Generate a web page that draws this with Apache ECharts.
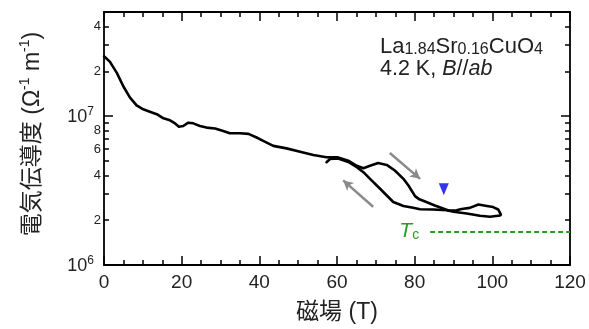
<!DOCTYPE html>
<html><head><meta charset="utf-8">
<script src="https://cdn.jsdelivr.net/npm/echarts@6/dist/echarts.min.js"></script>
<style>html,body{margin:0;padding:0;background:#fff}#c{width:589px;height:329px}</style>
</head><body><div id="c"></div>
<script>
// ---- data (field in T, conductivity in S/m) ----
const upField = [0, 1.5, 3.3, 5, 6.7, 8.4, 10.1, 11.8, 13.6, 15.3, 17, 18.3, 19.3, 20.4, 21.7, 23, 24.7, 26.4, 28.6, 30.7, 32.4, 35, 37.2, 39.3, 41, 43.6, 47, 50.5, 53.9, 57.3, 60.3, 62.9, 65.1, 66.8, 68.5, 70.6, 72.8, 74.9, 77.1, 78.4, 80.1, 81.2, 82.2, 85.2, 88.7, 90.8, 92.1, 94.2, 96.4, 98.6, 100.2, 101.5, 102.2];
const upCond = [25.2e6, 23.2e6, 19.5e6, 15.8e6, 13.3e6, 11.8e6, 11.1e6, 10.7e6, 10.3e6, 9.66e6, 9.36e6, 8.93e6, 8.49e6, 8.58e6, 9.03e6, 8.94e6, 8.58e6, 8.37e6, 8.25e6, 7.95e6, 7.67e6, 7.67e6, 7.59e6, 7.18e6, 6.82e6, 6.31e6, 6.07e6, 5.76e6, 5.48e6, 5.29e6, 5.28e6, 5.02e6, 4.64e6, 4.47e6, 4.64e6, 4.84e6, 4.70e6, 4.31e6, 3.79e6, 3.42e6, 2.90e6, 2.76e6, 2.70e6, 2.51e6, 2.32e6, 2.33e6, 2.38e6, 2.42e6, 2.55e6, 2.49e6, 2.45e6, 2.36e6, 2.18e6];
const downField = [102, 99.4, 96.8, 93.4, 90, 88.3, 84.8, 81.4, 79.6, 77.1, 74.5, 73.2, 71.1, 68.9, 66.8, 65.1, 62.9, 60.3, 58.2, 57.3];
const downCond = [2.15e6, 2.11e6, 2.14e6, 2.22e6, 2.28e6, 2.33e6, 2.36e6, 2.37e6, 2.42e6, 2.49e6, 2.65e6, 2.86e6, 3.25e6, 3.70e6, 4.20e6, 4.54e6, 4.92e6, 5.19e6, 5.15e6, 4.90e6];

const xTickStep = 20;
const yMajorTicks = [1e6, 1e7];
const yMinorTicks = [2e6, 3e6, 4e6, 5e6, 6e6, 7e6, 8e6, 9e6, 2e7, 3e7, 4e7, 5e7];
const yMinorLabels = [2e6, 4e6, 6e6, 8e6, 2e7, 4e7];

const arrowUpSweep = [[73.6, 5.65e6], [81.4, 3.79e6]];
const arrowDownSweep = [[69.3, 2.46e6], [61.6, 3.70e6]];
const markerPoint = [87.5, 3.22e6];
const tcLevel = 1.68e6;
const tcFieldRange = [84, 120];

const FONT = "'Liberation Sans', Arial, 'Noto Sans CJK JP', sans-serif";
const GREEN = '#22a022';
const zip = (a, b) => a.map((v, i) => [v, b[i]]);

const chart = echarts.init(document.getElementById('c'), null, {renderer: 'canvas'});

const baseY = {
  type: 'log', logBase: 10, min: 1e6, max: 5e7,
  splitLine: {show: false}, minorSplitLine: {show: false}
};
const tickStyle = {color: '#000', width: 1.5};

chart.setOption({
  animation: false,
  textStyle: {fontFamily: FONT},
  grid: {left: 104, right: 19, top: 12, bottom: 62},
  xAxis: [{
    type: 'value', min: 0, max: 120, interval: xTickStep, position: 'bottom',
    axisLine: {lineStyle: {color: '#000', width: 1.8}},
    axisTick: {inside: true, length: 9, lineStyle: tickStyle},
    minorTick: {show: true, splitNumber: 4, length: 5, lineStyle: tickStyle},
    axisLabel: {margin: 8, fontSize: 19, color: '#222', fontFamily: FONT},
    splitLine: {show: false},
    name: '磁場 (T)', nameLocation: 'middle', nameGap: 36,
    nameTextStyle: {fontSize: 23, color: '#222', fontFamily: FONT}
  }, {
    type: 'value', min: 0, max: 120, interval: xTickStep, position: 'top',
    axisLine: {lineStyle: {color: '#000', width: 1.8}},
    axisTick: {inside: true, length: 9, lineStyle: tickStyle},
    minorTick: {show: true, splitNumber: 4, length: 5, lineStyle: tickStyle},
    axisLabel: {show: false}, splitLine: {show: false}
  }],
  yAxis: [
    Object.assign({}, baseY, {
      position: 'left',
      axisLine: {show: true, lineStyle: {color: '#000', width: 1.8}},
      axisTick: {show: true, inside: true, length: 9, lineStyle: tickStyle, customValues: yMajorTicks},
      axisLabel: {
        customValues: yMajorTicks, margin: 10, color: '#222',
        formatter: v => '{b|10}{s|' + Math.round(Math.log10(v)) + '}',
        rich: {
          b: {fontSize: 18, fontFamily: FONT, color: '#222', lineHeight: 20, verticalAlign: 'bottom'},
          s: {fontSize: 12, fontFamily: FONT, color: '#222', lineHeight: 2, verticalAlign: 'top'}
        }
      }
    }),
    Object.assign({}, baseY, {
      position: 'left',
      axisLine: {show: false},
      axisTick: {show: true, inside: true, length: 5, lineStyle: tickStyle, customValues: yMinorTicks},
      axisLabel: {
        customValues: yMinorLabels, margin: 3, fontSize: 13, color: '#222', fontFamily: FONT,
        formatter: v => String(Math.round(v / Math.pow(10, Math.floor(Math.log10(v) + 1e-9))))
      }
    }),
    Object.assign({}, baseY, {
      position: 'right',
      axisLine: {show: true, lineStyle: {color: '#000', width: 1.8}},
      axisTick: {show: true, inside: true, length: 9, lineStyle: tickStyle, customValues: yMajorTicks},
      axisLabel: {show: false}
    }),
    Object.assign({}, baseY, {
      position: 'right',
      axisLine: {show: false},
      axisTick: {show: true, inside: true, length: 5, lineStyle: tickStyle, customValues: yMinorTicks},
      axisLabel: {show: false}
    })
  ],
  series: [{
    type: 'line', name: 'up', data: zip(upField, upCond), showSymbol: false, smooth: false,
    lineStyle: {color: '#000', width: 2.6, join: 'round', cap: 'round'}, silent: true
  }, {
    type: 'line', name: 'down', data: zip(downField, downCond), showSymbol: false, smooth: false,
    lineStyle: {color: '#000', width: 2.6, join: 'round', cap: 'round'}, silent: true
  }, {
    type: 'scatter', data: [markerPoint], symbol: 'triangle', symbolRotate: 180, symbolSize: [10, 12],
    itemStyle: {color: '#0000ee'}, silent: true
  }, {
    type: 'line', data: [], silent: true,
    markLine: {
      silent: true, animation: false,
      symbol: ['none', 'arrow'], symbolSize: [8, 10],
      lineStyle: {color: '#8a8a8a', width: 2.5, type: 'solid'},
      label: {show: false},
      data: [
        [{coord: arrowUpSweep[0]}, {coord: arrowUpSweep[1]}],
        [{coord: arrowDownSweep[0]}, {coord: arrowDownSweep[1]}]
      ]
    }
  }, {
    type: 'line', data: [], silent: true,
    markLine: {
      silent: true, animation: false, symbol: ['none', 'none'],
      lineStyle: {color: GREEN, width: 2, type: [5, 3]},
      label: {
        show: true, position: 'start', distance: 11,
        formatter: '{t|T}{c|c}',
        rich: {
          t: {fontSize: 21, fontStyle: 'italic', color: GREEN, fontFamily: FONT, lineHeight: 22, verticalAlign: 'top'},
          c: {fontSize: 14, color: GREEN, fontFamily: FONT, lineHeight: 8, verticalAlign: 'bottom'}
        }
      },
      data: [[{coord: [tcFieldRange[0], tcLevel]}, {coord: [tcFieldRange[1], tcLevel]}]]
    }
  }],
  graphic: [{
    type: 'text', left: 380, top: 36, silent: true,
    style: {
      text: '{m|La}{s|1.84}{m|Sr}{s|0.16}{m|CuO}{s|4}',
      rich: {
        m: {fontSize: 22, fontFamily: FONT, fill: '#222', lineHeight: 22, verticalAlign: 'top'},
        s: {fontSize: 16, fontFamily: FONT, fill: '#222', lineHeight: 8, verticalAlign: 'bottom'}
      }
    }
  }, {
    type: 'text', left: 380, top: 58, silent: true,
    style: {
      text: '{n|4.2 K, }{i|B}{n|//}{i|ab}',
      rich: {
        n: {fontSize: 21.5, fontFamily: FONT, fill: '#222', lineHeight: 22},
        i: {fontSize: 21.5, fontFamily: FONT, fill: '#222', lineHeight: 22, fontStyle: 'italic'}
      }
    }
  }, {
    type: 'text', x: 31, y: 134, rotation: Math.PI / 2, silent: true,
    style: {
      text: '{n|電気伝導度 (Ω}{s|-1}{n| m}{s|-1}{n|)}',
      align: 'center', verticalAlign: 'middle',
      rich: {
        n: {fontSize: 23, fontFamily: FONT, fill: '#222', lineHeight: 26, verticalAlign: 'bottom'},
        s: {fontSize: 14, fontFamily: FONT, fill: '#222', lineHeight: 6, verticalAlign: 'top'}
      }
    }
  }]
});
</script></body></html>
